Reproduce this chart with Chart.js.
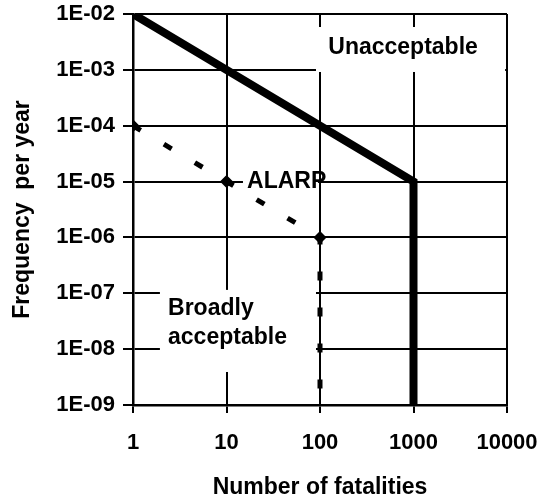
<!DOCTYPE html>
<html>
<head>
<meta charset="utf-8">
<script src="https://cdn.jsdelivr.net/npm/chart.js@4/dist/chart.umd.min.js"></script>
<style>
html,body{margin:0;padding:0;background:#fff;}
#wrap{width:540px;height:499px;}
</style>
</head>
<body>
<div id="wrap"><canvas id="c" width="540" height="499"></canvas></div>
<script>
// ---- data ----
const xTicks = [1, 10, 100, 1000, 10000];
const xTickLabels = ['1', '10', '100', '1000', '10000'];
const yTicks = [1e-9, 1e-8, 1e-7, 1e-6, 1e-5, 1e-4, 1e-3, 1e-2];
const yTickLabels = ['1E-09', '1E-08', '1E-07', '1E-06', '1E-05', '1E-04', '1E-03', '1E-02'];

// upper (unacceptable) limit line
const upperX = [1, 1000, 1000];
const upperY = [1e-2, 1e-5, 1e-9];
// lower (broadly acceptable) limit line
const lowerX = [1, 10, 100, 100];
const lowerY = [1e-4, 1e-5, 1e-6, 1e-9];

const xTitle = 'Number of fatalities';
const yTitle = 'Frequency  per year';

// region labels (data coordinates)
const regionLabels = [
  { lines: ['Unacceptable'], x: 773, y: 2.5e-3, align: 'center',
    box: [90.6, 9550, 5.85e-3, 9.16e-4] },
  { lines: ['Broadly', 'acceptable'], x: 2.37, y: [5.2e-8, 1.58e-8], align: 'left',
    box: [1.94, 90.6, 1.15e-7, 3.9e-9] },
  { lines: ['ALARP'], x: 16.6, y: 1e-5, align: 'left',
    box: [15, 95, 1.37e-5, 6.8e-6] }
];

const FONT = 'Arial, "Liberation Sans", Helvetica, sans-serif';

const labelPlugin = {
  id: 'regionLabels',
  beforeDatasetsDraw(chart) {
    const ctx = chart.ctx;
    const xs = chart.scales.x, ys = chart.scales.y;
    ctx.save();
    regionLabels.forEach(l => {
      const bx0 = xs.getPixelForValue(l.box[0]);
      const bx1 = xs.getPixelForValue(l.box[1]);
      const by0 = ys.getPixelForValue(l.box[2]);
      const by1 = ys.getPixelForValue(l.box[3]);
      ctx.fillStyle = '#fff';
      ctx.fillRect(bx0, by0, bx1 - bx0, by1 - by0);
    });
    ctx.fillStyle = '#000';
    ctx.font = 'bold 23px ' + FONT;
    ctx.textBaseline = 'middle';
    regionLabels.forEach(l => {
      ctx.textAlign = l.align;
      const px = xs.getPixelForValue(l.x);
      l.lines.forEach((t, i) => {
        const yv = Array.isArray(l.y) ? l.y[i] : l.y;
        ctx.fillText(t, px, ys.getPixelForValue(yv));
      });
    });
    ctx.restore();
  }
};

const tickFont = { family: FONT, size: 22, weight: 'bold' };

new Chart(document.getElementById('c'), {
  type: 'line',
  data: {
    datasets: [
      {
        data: upperX.map((x, i) => ({ x, y: upperY[i] })),
        borderColor: '#000',
        borderWidth: 8,
        pointRadius: 0,
        tension: 0,
        fill: false,
        borderJoinStyle: 'miter',
        borderCapStyle: 'butt'
      },
      {
        data: lowerX.map((x, i) => ({ x, y: lowerY[i] })),
        borderColor: '#000',
        borderWidth: 5,
        borderDash: [9, 27],
        pointRadius: [3, 3, 3, 0],
        pointStyle: 'rectRot',
        pointBackgroundColor: '#000',
        pointBorderColor: '#000',
        tension: 0,
        fill: false
      }
    ]
  },
  options: {
    responsive: false,
    animation: false,
    devicePixelRatio: 1,
    layout: { padding: { left: 0, right: 33, top: 14, bottom: 0 } },
    plugins: { legend: { display: false }, tooltip: { enabled: false } },
    scales: {
      x: {
        type: 'logarithmic',
        min: 1, max: 10000,
        afterBuildTicks: s => { s.ticks = xTicks.map(v => ({ value: v })); },
        afterFit: s => { s.height = 94; s.paddingLeft = 0; s.paddingRight = 0; },
        grid: { color: '#000', lineWidth: 2, tickLength: 8, drawTicks: true },
        border: { color: '#000', width: 2.5 },
        ticks: {
          color: '#000', font: tickFont, padding: 17, maxRotation: 0, autoSkip: false,
          callback: (v, i) => xTickLabels[i]
        },
        title: {
          display: true, text: xTitle, color: '#000',
          font: { family: FONT, size: 23, weight: 'bold', lineHeight: 1 },
          padding: { top: 0, bottom: 0 }
        }
      },
      y: {
        type: 'logarithmic',
        min: 1e-9, max: 1e-2,
        afterBuildTicks: s => { s.ticks = yTicks.map(v => ({ value: v })); },
        afterFit: s => { s.width = 133; s.paddingTop = 0; s.paddingBottom = 0; },
        grid: { color: '#000', lineWidth: 2, tickLength: 10, drawTicks: true },
        border: { color: '#000', width: 2.5 },
        ticks: {
          color: '#000', font: tickFont, padding: 8, autoSkip: false,
          callback: (v, i) => yTickLabels[i]
        },
        title: {
          display: true, text: yTitle, color: '#000',
          font: { family: FONT, size: 23, weight: 'bold', lineHeight: 1 },
          padding: { top: 11, bottom: 0 }
        }
      }
    }
  },
  plugins: [labelPlugin]
});
</script>
</body>
</html>
